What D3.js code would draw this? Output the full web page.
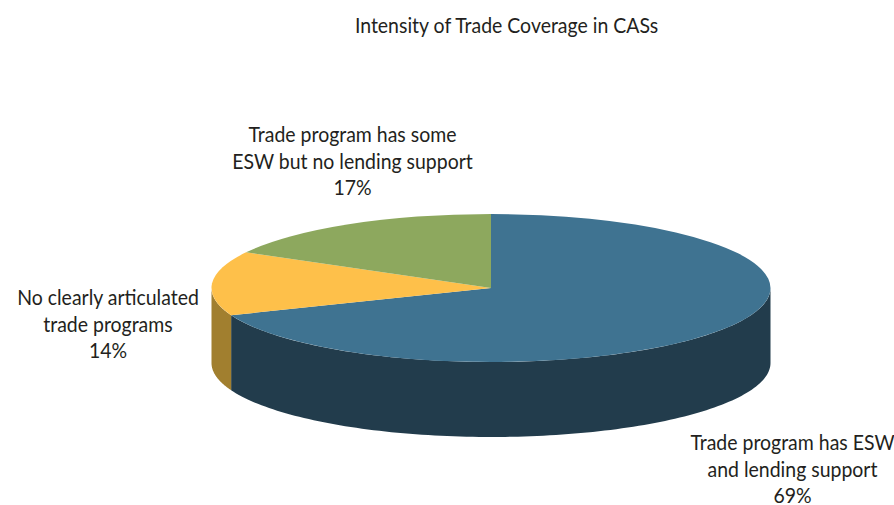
<!DOCTYPE html>
<html><head><meta charset="utf-8">
<script src="https://cdn.jsdelivr.net/npm/d3@7"></script>
<style>html,body{margin:0;padding:0;background:#fff}svg{display:block}text{font-family:Lato,sans-serif;font-size:21.5px;fill:#231f20}</style>
</head><body><svg width="894" height="505"></svg>
<script>
const title = "Intensity of Trade Coverage in CASs";
const categories = ["Trade program has ESW and lending support","No clearly articulated trade programs","Trade program has some ESW but no lending support"];
const values = [69,14,17];
const topColors = ["#3f7391","#fec04a","#8da85e"];
const sideColors = ["#223c4c","#a17f2f","#5e703f"];
const labelLines = [["Trade program has ESW","and lending support","69%"],["No clearly articulated","trade programs","14%"],["Trade program has some","ESW but no lending support","17%"]];
const labelPos = [[792.5,450],[108,305],[352.5,142]];

const cx=491, cy=288, rx=279.5, ry=74, depth=75, squeeze=0.905, leading=26.5;
const svg=d3.select("svg");
const slices=d3.pie().sort(null)(values);
const ex=a=>cx+rx*Math.sin(a), ey=a=>cy-ry*Math.cos(a);
const line=d3.line();
const lo=Math.PI/2, hi=3*Math.PI/2;
slices.forEach((s,i)=>{
  const a0=Math.max(s.startAngle,lo), a1=Math.min(s.endAngle,hi);
  if(a1<=a0) return;
  const angs=d3.range(0,121).map(k=>a0+(a1-a0)*k/120);
  const pts=angs.map(a=>[ex(a),ey(a)]).concat(angs.slice().reverse().map(a=>[ex(a),ey(a)+depth]));
  svg.append("path").attr("d",line(pts)+"Z").attr("fill",sideColors[i]);
});
const arc=d3.arc().innerRadius(0).outerRadius(rx);
const g=svg.append("g").attr("transform",`translate(${cx},${cy}) scale(1,${ry/rx})`);
g.selectAll("path").data(slices).join("path").attr("d",arc).attr("fill",(d,i)=>topColors[i]);
const put=(t,x,y)=>svg.append("text").attr("transform",`translate(${x},${y}) scale(${squeeze},1)`).attr("text-anchor","middle").text(t);
put(title,506.5,33);
labelLines.forEach((ls,i)=>ls.forEach((t,j)=>put(t,labelPos[i][0],labelPos[i][1]+j*leading)));
</script></body></html>
